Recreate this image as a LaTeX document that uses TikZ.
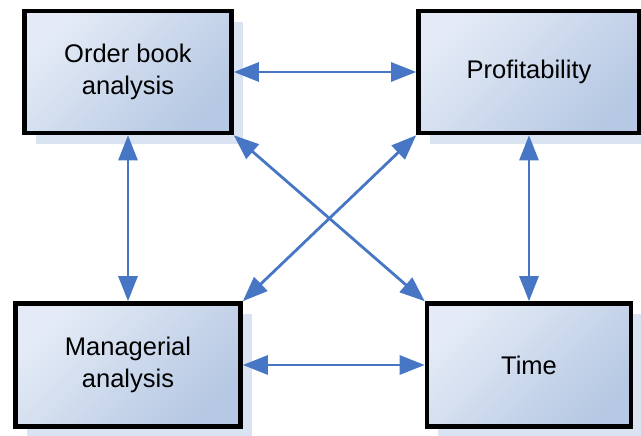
\documentclass[tikz,border=0pt]{standalone}
\usepackage{fontspec}
\setmainfont{Liberation Sans}
\usetikzlibrary{arrows.meta,shadows}
\definecolor{boxlight}{RGB}{228,235,246}
\definecolor{boxdark}{RGB}{182,200,227}
\definecolor{shadowblue}{RGB}{218,227,242}
\definecolor{linkblue}{RGB}{70,118,196}
\begin{document}
\begin{tikzpicture}[
        x=1pt, y=1pt,
        every node/.style={draw=black, line width=4.6pt, align=center,
            font=\fontsize{25.5}{32}\selectfont,
            top color=boxlight, bottom color=boxdark, shading angle=45,
            drop shadow={shadow xshift=11pt, shadow yshift=-11pt,
                fill=shadowblue, opacity=1, draw=none}},
        link/.style={linkblue, line width=2.8pt,
            {Triangle[length=25pt,width=19pt]}-{Triangle[length=25pt,width=19pt]}}
    ]
        \useasboundingbox (0,0) rectangle (641,436);

        % Boxes
        \node [minimum width=207pt, minimum height=122pt] (order) at (128,364) {Order book\\analysis};
        \node [minimum width=221pt, minimum height=122pt] (profit) at (529,364) {Profitability};
        \node [minimum width=225pt, minimum height=123pt] (manager) at (128,71) {Managerial\\analysis};
        \node [minimum width=204pt, minimum height=123pt] (time) at (529,71) {Time};

        % Links
        \draw[link] (order.east) -- (profit.west);
        \draw[link] (manager.east) -- (time.west);
        \draw[link] (order.south) -- (manager.north);
        \draw[link] (profit.south) -- (time.north);
        \draw[link] (order.south east) -- (time.north west);
        \draw[link] (profit.south west) -- (manager.north east);
    \end{tikzpicture}
\end{document}
